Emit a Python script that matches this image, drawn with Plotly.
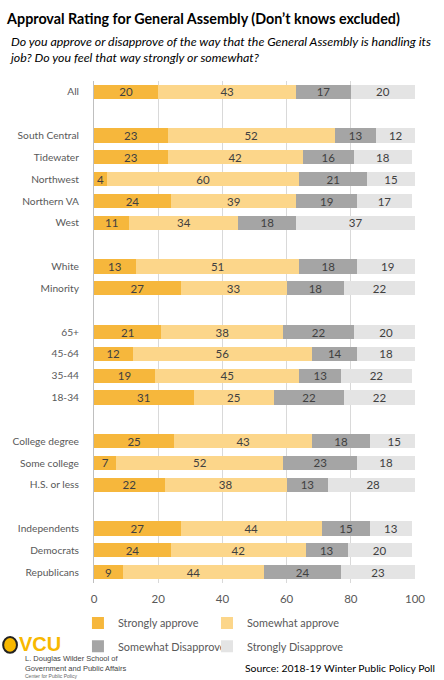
import plotly.graph_objects as go

# groups of rows, a blank row is left between groups
groups = [
    ["All"],
    ["South Central", "Tidewater", "Northwest", "Northern VA", "West"],
    ["White", "Minority"],
    ["65+", "45-64", "35-44", "18-34"],
    ["College degree", "Some college", "H.S. or less"],
    ["Independents", "Democrats", "Republicans"],
]

strongly_approve = [20, 23, 23, 4, 24, 11, 13, 27, 21, 12, 19, 31, 25, 7, 22, 27, 24, 9]
somewhat_approve = [43, 52, 42, 60, 39, 34, 51, 33, 38, 56, 45, 25, 43, 52, 38, 44, 42, 44]
somewhat_disapprove = [17, 13, 16, 21, 19, 18, 18, 18, 22, 14, 13, 22, 18, 23, 13, 15, 13, 24]
strongly_disapprove = [20, 12, 18, 15, 17, 37, 19, 22, 20, 18, 22, 22, 15, 18, 28, 13, 20, 23]

series = [
    ("Strongly approve", strongly_approve, "#F6B73C"),
    ("Somewhat approve", somewhat_approve, "#FCD68A"),
    ("Somewhat Disapprove", somewhat_disapprove, "#A5A5A5"),
    ("Strongly Disapprove", strongly_disapprove, "#E4E4E4"),
]

# row positions: one slot per category plus one empty slot between groups
labels = []
pos = []
slot = 0
for g in groups:
    for name in g:
        labels.append(name)
        pos.append(slot)
        slot += 1
    slot += 1

# one legend per trace so the 2x2 grid can be placed like the original
legend_ids = ["legend", "legend2", "legend3", "legend4"]
legend_xy = [(-0.05, -0.0795), (0.352, -0.0795), (-0.05, -0.126), (0.352, -0.126)]

fig = go.Figure()
for (name, vals, col), leg in zip(series, legend_ids):
    fig.add_trace(go.Bar(
        y=pos, x=vals, name=name, orientation="h", legend=leg,
        marker=dict(color=col, line=dict(width=0)),
        text=vals, textposition="inside", insidetextanchor="middle", textangle=0,
        textfont=dict(family="Lato", size=11.5, color="#404040"),
        hoverinfo="x+name",
    ))

legend_style = dict(
    orientation="v", xanchor="left", yanchor="middle", itemwidth=30,
    font=dict(family="Lato", size=10.9, color="#595959"),
    bgcolor="rgba(0,0,0,0)",
)
legends = {leg: dict(x=x, y=y, **legend_style) for leg, (x, y) in zip(legend_ids, legend_xy)}

fig.update_layout(
    barmode="stack",
    bargap=0.35,
    width=444, height=680,
    margin=dict(l=94, r=29, t=81, b=97, autoexpand=False),
    paper_bgcolor="white", plot_bgcolor="white",
    font=dict(family="Lato", color="#595959"),
    uniformtext=dict(minsize=11, mode="show"),
    title=dict(
        text="<b>Approval Rating for General Assembly (Don’t knows excluded)</b>",
        x=0.016, xanchor="left", y=0.972, yanchor="middle",
        font=dict(family="Lato", size=14.3, color="#000000"),
    ),
    showlegend=True,
    **legends,
)

fig.update_xaxes(
    range=[0, 100], dtick=20, showgrid=True, gridcolor="#D9D9D9", gridwidth=1,
    zeroline=False, showline=False, ticks="", ticklabelstandoff=7,
    tickfont=dict(family="Lato", size=11.5, color="#595959"),
)
fig.update_yaxes(
    tickvals=pos, ticktext=labels, range=[slot - 1.5, -0.5],
    showgrid=False, zeroline=False, showline=True, linecolor="#BFBFBF",
    ticks="", ticklabelstandoff=12,
    tickfont=dict(family="Lato", size=10.2, color="#595959"),
)

fig.add_annotation(
    text="<i>Do you approve or disapprove of the way that the General Assembly is handling its<br>job? Do you feel that way strongly or somewhat?</i>",
    xref="paper", yref="paper", x=-0.271, y=1.062, xanchor="left", yanchor="middle",
    showarrow=False, align="left",
    font=dict(family="Lato", size=12.4, color="#000000"),
)
fig.add_annotation(
    text="Source: 2018-19 Winter Public Policy Poll",
    xref="paper", yref="paper", x=1.068, y=-0.169, xanchor="right", yanchor="middle",
    showarrow=False, font=dict(family="Lato", size=10.4, color="#000000"),
)

# VCU logo
fig.add_shape(type="circle", xref="paper", yref="paper",
              x0=-0.283, x1=-0.240, y0=-0.139, y1=-0.1076,
              fillcolor="#F8B800", line=dict(color="#222222", width=2))
fig.add_annotation(
    text="<b>VCU</b>", xref="paper", yref="paper", x=-0.240, y=-0.122,
    xanchor="left", yanchor="middle", showarrow=False,
    font=dict(family="Liberation Sans", size=20, color="#F8B800"),
)
fig.add_annotation(
    text="L. Douglas Wilder School of<br>Government and Public Affairs",
    xref="paper", yref="paper", x=-0.222, y=-0.161, xanchor="left", yanchor="middle",
    showarrow=False, align="left",
    font=dict(family="Liberation Sans", size=7.5, color="#444444"),
)
fig.add_annotation(
    text="Center for Public Policy",
    xref="paper", yref="paper", x=-0.222, y=-0.186, xanchor="left", yanchor="middle",
    showarrow=False, align="left",
    font=dict(family="Liberation Sans", size=5, color="#666666"),
)

# drop the default page margin so the figure sits at the window corner
fig.write_html("out.html", config={"displayModeBar": False},
               post_script="document.body.style.margin='0';")
